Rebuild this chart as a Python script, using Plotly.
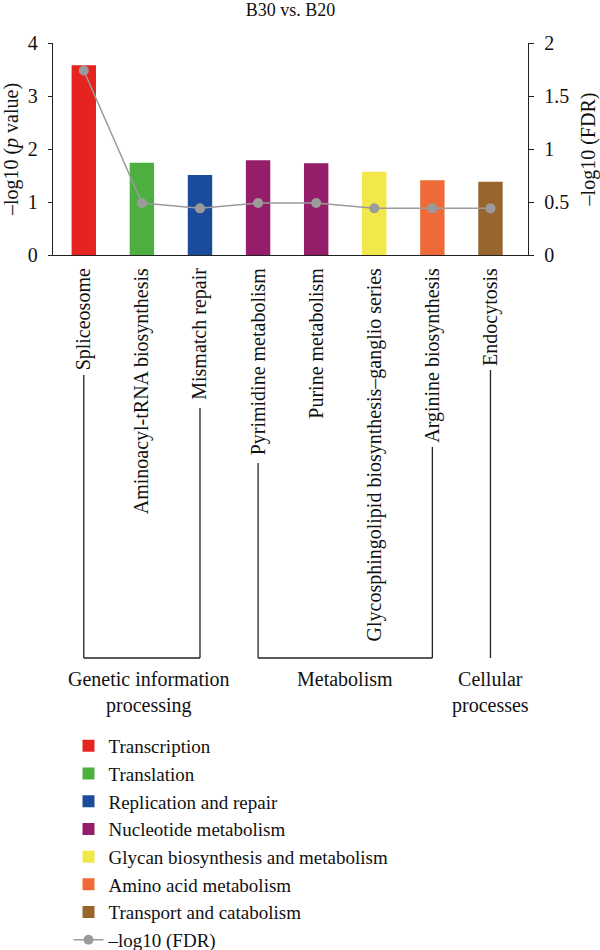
import plotly.graph_objects as go

# ---------------- data ----------------
categories = ["Spliceosome", "Aminoacyl-tRNA biosynthesis", "Mismatch repair",
              "Pyrimidine metabolism", "Purine metabolism",
              "Glycosphingolipid biosynthesis–ganglio series",
              "Arginine biosynthesis", "Endocytosis"]
neg_log10_p = [3.58, 1.74, 1.51, 1.79, 1.73, 1.57, 1.41, 1.38]
neg_log10_fdr = [1.74, 0.49, 0.44, 0.49, 0.49, 0.44, 0.44, 0.44]
pathway_class = ["Transcription", "Translation", "Replication and repair",
                 "Nucleotide metabolism", "Nucleotide metabolism",
                 "Glycan biosynthesis and metabolism", "Amino acid metabolism",
                 "Transport and catabolism"]
class_names = ["Transcription", "Translation", "Replication and repair",
               "Nucleotide metabolism", "Glycan biosynthesis and metabolism",
               "Amino acid metabolism", "Transport and catabolism"]
class_colors = ["#E52420", "#4DAF3F", "#1B4B9B", "#941E6A", "#F2E84B", "#EE6A38", "#99652F"]
top_groups = ["Genetic information<br>processing", "Metabolism", "Cellular<br>processes"]
group_members = [["Spliceosome", "Mismatch repair"],
                 ["Pyrimidine metabolism", "Arginine biosynthesis"],
                 ["Endocytosis"]]

FONT = "Liberation Serif"
W, H = 600, 950
M_L, M_R, M_T, M_B = 53, 72, 43, 695
PLOT_H = H - M_T - M_B
PLOT_W = W - M_L - M_R


def py(px):
    """pixel row -> paper y"""
    return (H - M_B - px) / PLOT_H


def px_x(px):
    return (px - M_L) / PLOT_W


def cy(px):
    """pixel row -> container y"""
    return 1 - px / H


fig = go.Figure()

for name, color in zip(class_names, class_colors):
    xs = [c for c, k in zip(categories, pathway_class) if k == name]
    ys = [v for v, k in zip(neg_log10_p, pathway_class) if k == name]
    fig.add_trace(go.Bar(x=xs, y=ys, name=name, marker_color=color,
                         marker_line_width=0, width=0.42))

fig.add_trace(go.Scatter(x=categories, y=neg_log10_fdr, name="–log10 (FDR)",
                         yaxis="y2", mode="lines+markers",
                         line=dict(color="#9B9B9B", width=1.5),
                         marker=dict(color="#9B9B9B", size=10)))

# bracket lines
LINE = dict(color="#222222", width=1.3)
bracket_tops = {"Spliceosome": 375, "Mismatch repair": 408, "Pyrimidine metabolism": 463,
                "Arginine biosynthesis": 447, "Endocytosis": 370}
BR_BOTTOM = 658
shapes = []
for members in group_members:
    for m in members:
        shapes.append(dict(type="line", xref="x", yref="paper", x0=m, x1=m,
                           y0=py(bracket_tops[m]), y1=py(BR_BOTTOM), line=LINE))
    if len(members) == 2:
        shapes.append(dict(type="line", xref="x", yref="paper", x0=members[0], x1=members[1],
                           y0=py(BR_BOTTOM), y1=py(BR_BOTTOM), line=LINE))

annotations = []
shifts = [7, 0, 0]
for label, members, sh in zip(top_groups, group_members, shifts):
    idx = [categories.index(m) for m in members]
    xc = sum(idx) / len(idx)
    annotations.append(dict(text=label, x=xc, xref="x", y=py(666), yref="paper",
                            xanchor="center", yanchor="top", showarrow=False,
                            xshift=sh, align="center",
                            font=dict(family=FONT, size=20, color="#111111")))

fig.update_layout(
    width=W, height=H,
    margin=dict(l=M_L, r=M_R, t=M_T, b=M_B, autoexpand=False),
    paper_bgcolor="white", plot_bgcolor="white",
    barmode="overlay",
    font=dict(family=FONT, size=20, color="#111111"),
    title=dict(text="B30 vs. B20", x=0.5, xref="paper", y=cy(3.5), yref="container",
               yanchor="top", xanchor="center",
               font=dict(family=FONT, size=18, color="#111111")),
    xaxis=dict(type="category", categoryorder="array", categoryarray=categories,
               range=[-0.53, 7.646], showline=True, linecolor="#222222", linewidth=1.3,
               ticks="", tickangle=-90, ticklabelstandoff=4, automargin=False,
               showgrid=False, zeroline=False,
               tickfont=dict(family=FONT, size=20, color="#111111")),
    yaxis=dict(range=[0, 4], tickvals=[0, 1, 2, 3, 4], showline=True,
               linecolor="#222222", linewidth=1.3, ticks="outside", ticklen=4,
               tickcolor="#222222", tickwidth=1.3, showgrid=False, zeroline=False,
               ticklabelstandoff=6, automargin=False,
               title=dict(text="–log10 (<i>p</i> value)", standoff=8,
                          font=dict(family=FONT, size=20)),
               tickfont=dict(family=FONT, size=20, color="#111111")),
    yaxis2=dict(range=[0, 2], tickvals=[0, 0.5, 1, 1.5, 2], overlaying="y", side="right",
                showline=True, linecolor="#222222", linewidth=1.3, ticks="outside",
                ticklen=5, tickcolor="#222222", tickwidth=1.3, showgrid=False,
                zeroline=False, ticklabelstandoff=6, automargin=False,
                title=dict(text="–log10 (FDR)", standoff=12,
                           font=dict(family=FONT, size=20)),
                tickfont=dict(family=FONT, size=20, color="#111111")),
    legend=dict(x=px_x(68.5), y=cy(727), xanchor="left", yanchor="top", yref="container",
                orientation="v", bgcolor="rgba(0,0,0,0)",
                font=dict(family=FONT, size=19, color="#111111"),
                traceorder="normal"),
    shapes=shapes,
    annotations=annotations,
    showlegend=True,
)

fig.write_html("out.html", config={"displayModeBar": False},
               post_script="document.body.style.margin='0';")
